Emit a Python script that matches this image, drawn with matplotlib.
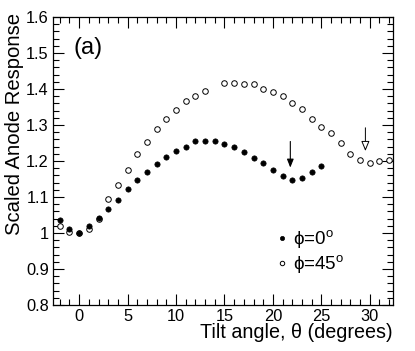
import matplotlib
matplotlib.use("Agg")
import matplotlib.pyplot as plt
from matplotlib.ticker import MultipleLocator, FuncFormatter

plt.rcParams['font.family'] = ['Liberation Sans', 'DejaVu Sans']
plt.rcParams['mathtext.fontset'] = 'custom'
plt.rcParams['mathtext.rm'] = 'Liberation Sans'
plt.rcParams['mathtext.it'] = 'Liberation Sans:italic'

# phi = 0 deg (filled)
theta0 = [-2, -1, 0, 1, 2, 3, 4, 5, 6, 7, 8, 9, 10, 11, 12, 13, 14, 15, 16,
          17, 18, 19, 20, 21, 22, 23, 24, 25]
resp0 = [1.036, 1.011, 1.000, 1.019, 1.041, 1.067, 1.092, 1.122, 1.147, 1.170,
         1.191, 1.211, 1.228, 1.240, 1.255, 1.255, 1.255, 1.248, 1.238, 1.224,
         1.209, 1.194, 1.176, 1.159, 1.148, 1.153, 1.169, 1.187]

# phi = 45 deg (open)
theta45 = [-2, -1, 0, 1, 2, 3, 4, 5, 6, 7, 8, 9, 10, 11, 12, 13, 15, 16, 17,
           18, 19, 20, 21, 22, 23, 24, 25, 26, 27, 28, 29, 30, 31, 32]
resp45 = [1.019, 1.003, 1.000, 1.011, 1.039, 1.095, 1.133, 1.176, 1.220, 1.254,
          1.289, 1.318, 1.343, 1.366, 1.381, 1.394, 1.417, 1.417, 1.415, 1.415,
          1.400, 1.392, 1.380, 1.360, 1.344, 1.318, 1.295, 1.279, 1.249, 1.219,
          1.203, 1.194, 1.200, 1.204]

# arrows marking the minima: (x, y_start, y_end)
arrow0 = (21.8, 1.262, 1.174)
arrow45 = (29.55, 1.300, 1.220)

fig = plt.figure(figsize=(4.15, 3.51), dpi=100)
ax = fig.add_axes([53 / 415, 1 - 305 / 351, 340 / 415, 288 / 351])

ax.plot(theta45, resp45, 'o', ms=4.0, mfc='white', mec='black', mew=0.7,
        ls='none', label=r'ϕ=45$^{\rm o}$')
ax.plot(theta0, resp0, 'o', ms=3.8, mfc='black', mec='black', mew=0.5,
        ls='none', label=r'ϕ=0$^{\rm o}$')

ax.annotate('', xy=(arrow0[0], arrow0[2]), xytext=(arrow0[0], arrow0[1]),
            arrowprops=dict(arrowstyle='-|>,head_length=0.5,head_width=0.2',
                            fc='black', ec='black', lw=0.8))
ax.annotate('', xy=(arrow45[0], arrow45[2]), xytext=(arrow45[0], arrow45[1]),
            arrowprops=dict(arrowstyle='-|>,head_length=0.6,head_width=0.25',
                            fc='white', ec='black', lw=0.7))

ax.set_xlim(-2.7, 32.4)
ax.set_ylim(0.8, 1.6)
ax.xaxis.set_major_locator(MultipleLocator(5))
ax.xaxis.set_minor_locator(MultipleLocator(1))
ax.yaxis.set_major_locator(MultipleLocator(0.1))
ax.yaxis.set_minor_locator(MultipleLocator(0.02))
ax.yaxis.set_major_formatter(FuncFormatter(lambda v, p: f"{v:g}"))
ax.tick_params(which='both', direction='in', top=True, right=True,
               labelsize=11.8, width=0.8)
ax.tick_params(which='major', length=8, pad=3)
ax.tick_params(which='minor', length=4)
for s in ax.spines.values():
    s.set_linewidth(0.9)

ax.set_xlabel('Tilt angle, θ (degrees)', fontsize=14.2, loc='right',
              labelpad=-1)
ax.set_ylabel('Scaled Anode Response', fontsize=14.6, loc='top')
ax.yaxis.set_label_coords(-0.085, 1.013, transform=ax.transAxes)

ax.text(0.06, 0.93, '(a)', transform=ax.transAxes, fontsize=17,
        va='top', ha='left')

h, l = ax.get_legend_handles_labels()
ax.legend(h[::-1], l[::-1], loc='upper left', bbox_to_anchor=(0.628, 0.292),
          frameon=False, fontsize=13.5, handletextpad=0.1, handlelength=0.9,
          labelspacing=0.15, borderaxespad=0, markerscale=0.8)

fig.savefig('out.png', dpi=100)
